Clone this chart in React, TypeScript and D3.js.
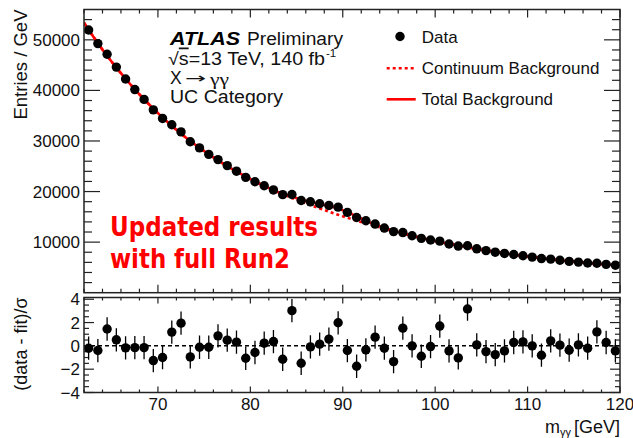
import React from "react";
import * as d3 from "d3";

// ---- data ----
const massBins = [62.5,63.5,64.5,65.5,66.5,67.5,68.5,69.5,70.5,71.5,72.5,73.5,74.5,75.5,76.5,77.5,78.5,79.5,80.5,81.5,82.5,83.5,84.5,85.5,86.5,87.5,88.5,89.5,90.5,91.5,92.5,93.5,94.5,95.5,96.5,97.5,98.5,99.5,100.5,101.5,102.5,103.5,104.5,105.5,106.5,107.5,108.5,109.5,110.5,111.5,112.5,113.5,114.5,115.5,116.5,117.5,118.5,119.5];

const dataEntries = [51950,49260,47160,44610,42265,40170,38220,36160,34460,33210,31800,29840,28630,27360,26320,25130,24030,22810,21935,21150,20320,19390,19410,18240,17970,17580,17250,16920,15890,14880,14220,13570,12780,12080,11890,11270,10750,10420,10190,9620,9220,9285,8680,8320,8010,7765,7560,7310,7040,6750,6640,6410,6190,6050,5870,5820,5610,5420];

const totalBkg = [52000,49350,46850,44500,42300,40200,38250,36400,34650,33000,31450,30000,28650,27380,26180,25050,23980,22970,22020,21120,20270,19550,18990,18440,17980,17560,17170,16660,15940,15100,14260,13480,12800,12230,11720,11270,10840,10430,10020,9660,9315,8985,8670,8368,8080,7803,7538,7284,7040,6815,6604,6406,6220,6046,5883,5730,5587,5453];

const continuumBkg = [52000,49350,46850,44500,42300,40200,38250,36400,34650,33000,31450,30000,28650,27380,26180,25050,23980,22970,22020,21120,20270,19490,18740,18020,17330,16660,16020,15410,14820,14250,13700,13180,12670,12190,11720,11270,10840,10430,10020,9660,9315,8985,8670,8368,8080,7803,7538,7284,7040,6815,6604,6406,6220,6046,5883,5730,5587,5453];

const curveEdgeMass = [62, 120];
const curveEdgeValue = [53400, 5385];

const pulls = [-0.2,-0.4,1.45,0.52,-0.17,-0.15,-0.15,-1.26,-1.0,1.18,1.95,-0.95,-0.12,-0.12,0.86,0.49,0.32,-1.06,-0.57,0.23,0.37,-1.15,3.02,-1.49,-0.09,0.15,0.58,1.98,-0.4,-1.75,-0.34,0.75,-0.2,-1.35,1.52,0,-0.89,-0.06,1.7,-0.43,-1.03,3.16,0.09,-0.49,-0.75,-0.43,0.29,0.34,0,-0.8,0.43,0.06,-0.37,0.09,-0.2,1.2,0.29,-0.43];

const xTickLabels = [70, 80, 90, 100, 110, 120];
const yMainTickLabels = [10000, 20000, 30000, 40000, 50000];
const yRatioTickLabels = [-4, -2, 0, 2, 4];

// ---- layout ----
const W = 633, H = 438;
const L = 84, R = 620;
const mainTop = 9.5, mainBot = 292.7;
const ratTop = 297.5, ratBot = 392.5;
const FONT = "'Liberation Sans', Arial, Helvetica, sans-serif";
const AX = "#222";

export default function App() {
  const x = d3.scaleLinear().domain([62, 120]).range([L, R]);
  const y = d3.scaleLinear().domain([0, 56000]).range([mainBot, mainTop]);
  const yr = d3.scaleLinear().domain([-4, 4.15]).range([ratBot, ratTop]);

  const mk = (vals: number[]) => {
    const pts: [number, number][] = [[curveEdgeMass[0], curveEdgeValue[0]]];
    massBins.forEach((m, i) => pts.push([m, vals[i]]));
    pts.push([curveEdgeMass[1], curveEdgeValue[1]]);
    return d3.line<[number, number]>().x(d => x(d[0])).y(d => y(d[1])).curve(d3.curveMonotoneX)(pts) || "";
  };
  const totalPath = mk(totalBkg);
  const contPath = mk(continuumBkg);

  const xMinor = d3.range(62, 120.01, 2);
  const yMinor = d3.range(2000, 56000, 2000);
  const rMinor = d3.range(-4, 4.1, 0.5);

  const tickFont = 17;
  const labFont = 17.5;

  return (
    <svg width={W} height={H} style={{ position: "absolute", left: 0, top: 0, background: "#fff" }} fontFamily={FONT}>
      <rect x={0} y={0} width={W} height={H} fill="#fff" />
      <defs>
        <clipPath id="mainClip"><rect x={L} y={mainTop} width={R - L} height={mainBot - mainTop} /></clipPath>
        <clipPath id="ratClip"><rect x={L} y={ratTop} width={R - L} height={ratBot - ratTop} /></clipPath>
      </defs>

      {/* ---------- main panel ---------- */}
      {yMinor.map(v => {
        const major = v % 10000 === 0;
        const len = major ? 16 : 8;
        return (
          <g key={"ym" + v} stroke={AX} strokeWidth={1.2}>
            <line x1={L} x2={L + len} y1={y(v)} y2={y(v)} />
            <line x1={R} x2={R - len} y1={y(v)} y2={y(v)} />
          </g>
        );
      })}
      {yMainTickLabels.map(v => (
        <text key={"yl" + v} x={80} y={y(v) + 6} textAnchor="end" fontSize={tickFont} fill="#111">{v}</text>
      ))}
      {xMinor.map(v => {
        const major = v % 10 === 0;
        const len = major ? 8 : 4;
        return (
          <g key={"xm" + v} stroke={AX} strokeWidth={1.2}>
            <line x1={x(v)} x2={x(v)} y1={mainTop} y2={mainTop + len} />
            <line x1={x(v)} x2={x(v)} y1={mainBot} y2={mainBot - len} />
          </g>
        );
      })}

      <g clipPath="url(#mainClip)">
        <path d={contPath} fill="none" stroke="#ff0000" strokeWidth={2.6} strokeDasharray="3,3" />
        <path d={totalPath} fill="none" stroke="#ff0000" strokeWidth={2.6} />
        {massBins.map((m, i) => (
          <circle key={"d" + i} cx={x(m)} cy={y(dataEntries[i])} r={4.7} fill="#000" />
        ))}
      </g>
      <rect x={L} y={mainTop} width={R - L} height={mainBot - mainTop} fill="none" stroke={AX} strokeWidth={1.5} />

      <text transform={`translate(27,${mainTop}) rotate(-90)`} textAnchor="end" fontSize={18.5} fill="#111">Entries / GeV</text>

      {/* ATLAS label */}
      <text x={170} y={44.5} fontSize={labFont} fontWeight="bold" fontStyle="italic" fill="#000"
        textLength={70} lengthAdjust="spacingAndGlyphs">ATLAS</text>
      <text x={247} y={44.5} fontSize={labFont} fill="#111" textLength={96} lengthAdjust="spacingAndGlyphs">Preliminary</text>
      <text x={168} y={64.5} fontSize={labFont} fill="#111" textLength={157} lengthAdjust="spacingAndGlyphs">
        √<tspan style={{ textDecoration: "overline" }}>s</tspan>=13 TeV, 140 fb
      </text>
      <text x={326} y={57} fontSize={11.5} fill="#111">-1</text>
      <text x={170} y={84} fontSize={labFont} fill="#111">X</text>
      <text x={185} y={83} fontSize={14} fill="#111" fontFamily="'DejaVu Sans', sans-serif"
        textLength={21} lengthAdjust="spacingAndGlyphs">→</text>
      <text x={210} y={84.5} fontSize={17.5} fill="#111" fontFamily="'Liberation Serif', serif"
        textLength={19} lengthAdjust="spacingAndGlyphs">γγ</text>
      <text x={170} y={103} fontSize={labFont} fill="#111" textLength={113} lengthAdjust="spacingAndGlyphs">UC Category</text>

      {/* legend */}
      <circle cx={400} cy={36.5} r={4.7} fill="#000" />
      <text x={421.7} y={42.7} fontSize={17} fill="#111">Data</text>
      <line x1={386.7} x2={415.7} y1={68.3} y2={68.3} stroke="#ff0000" strokeWidth={2.6} strokeDasharray="3,3" />
      <text x={421.7} y={74} fontSize={17} fill="#111">Continuum Background</text>
      <line x1={386.7} x2={415.7} y1={99.3} y2={99.3} stroke="#ff0000" strokeWidth={2.6} />
      <text x={421.7} y={105.3} fontSize={17} fill="#111">Total Background</text>

      {/* annotation */}
      <text x={110} y={236} fontSize={26} fontWeight="bold" fill="#ff0000" textLength={208} lengthAdjust="spacingAndGlyphs"
        fontFamily="'Comic Sans MS', 'DejaVu Sans', sans-serif">Updated results</text>
      <text x={110} y={268} fontSize={26} fontWeight="bold" fill="#ff0000" textLength={180} lengthAdjust="spacingAndGlyphs"
        fontFamily="'Comic Sans MS', 'DejaVu Sans', sans-serif">with full Run2</text>

      {/* ---------- ratio panel ---------- */}
      {rMinor.map(v => {
        const major = Math.abs(v % 2) < 1e-6;
        const len = major ? 10 : 5;
        return (
          <g key={"rm" + v} stroke={AX} strokeWidth={1.2}>
            <line x1={L} x2={L + len} y1={yr(v)} y2={yr(v)} />
            <line x1={R} x2={R - len} y1={yr(v)} y2={yr(v)} />
          </g>
        );
      })}
      {yRatioTickLabels.map(v => (
        <text key={"rl" + v} x={80} y={yr(v) + 6} textAnchor="end" fontSize={tickFont} fill="#111">{v < 0 ? "−" + Math.abs(v) : v}</text>
      ))}
      {xMinor.map(v => {
        const major = v % 10 === 0;
        const len = major ? 6 : 3;
        return (
          <g key={"rx" + v} stroke={AX} strokeWidth={1.2}>
            <line x1={x(v)} x2={x(v)} y1={ratTop} y2={ratTop + len} />
            <line x1={x(v)} x2={x(v)} y1={ratBot} y2={ratBot - len} />
          </g>
        );
      })}
      {xTickLabels.map(v => (
        <text key={"xl" + v} x={x(v)} y={410} textAnchor="middle" fontSize={tickFont} fill="#111">{v}</text>
      ))}

      <g clipPath="url(#ratClip)">
        <line x1={L} x2={R} y1={yr(0)} y2={yr(0)} stroke="#000" strokeWidth={1.5} strokeDasharray="4,3" />
        {massBins.map((m, i) => (
          <g key={"p" + i}>
            <line x1={x(m)} x2={x(m)} y1={yr(pulls[i] - 1)} y2={yr(pulls[i] + 1)} stroke="#000" strokeWidth={1.3} />
            <circle cx={x(m)} cy={yr(pulls[i])} r={4.7} fill="#000" />
          </g>
        ))}
      </g>
      <rect x={L} y={ratTop} width={R - L} height={ratBot - ratTop} fill="none" stroke={AX} strokeWidth={1.5} />

      <text transform={`translate(27,${ratTop}) rotate(-90)`} textAnchor="end" fontSize={18} fill="#111">(data - fit)/σ</text>

      <text x={545} y={433} fontSize={18} fill="#111">m</text>
      <text x={560} y={436} fontSize={11} fill="#111">γγ</text>
      <text x={620} y={433} textAnchor="end" fontSize={18} fill="#111">[GeV]</text>
    </svg>
  );
}
